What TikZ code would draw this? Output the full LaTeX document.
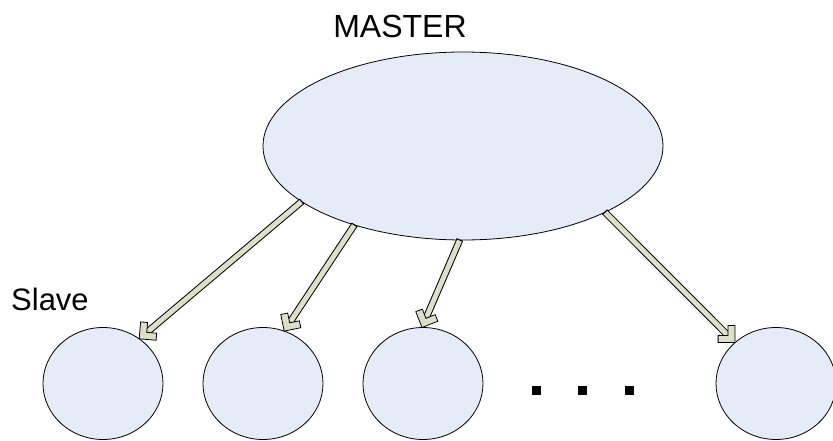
\documentclass[tikz,border=0pt]{standalone}
\usepackage{fontspec}
\setmainfont{Liberation Sans}
\usetikzlibrary{shapes.geometric,decorations.markings}
\definecolor{nodefill}{RGB}{229,236,248}
\definecolor{shaftfill}{RGB}{221,223,201}
\tikzset{
  bubble/.style={ellipse, draw=black, line width=0.8pt, fill=nodefill,
    inner sep=0pt, outer sep=0pt},
  slavenode/.style={bubble, minimum width=120pt, minimum height=112pt},
  dotmark/.style={rectangle, fill=black, minimum size=9pt, inner sep=0pt},
  caption/.style={inner sep=0pt, font=\fontsize{32}{38}\selectfont},
  % outlined block arrow with an open chevron head
  blockarrow/.style={
    preaction={draw, line width=1pt, double=shaftfill, double distance=5pt,
      shorten >=5pt},
    postaction={decorate, decoration={markings,
      mark=at position 0 with {\draw[line width=1pt] (0,-3.5) -- (0,3.5);},
      mark=at position 1 with {\filldraw[fill=shaftfill, draw=black,
        line width=0.8pt, line join=miter]
        (0,0) -- (-12,12) -- (-17,7) -- (-9.9,0) -- (-17,-7) -- (-12,-12) -- cycle;}}}}
}
\begin{document}
\begin{tikzpicture}[x=1pt, y=-1pt]
  \useasboundingbox (0,0) rectangle (833,441);

  % master and slaves
  \node[bubble, minimum width=400pt, minimum height=188pt] (m) at (463,146) {};
  \node[slavenode] (s1) at (103,383.5) {};
  \node[slavenode] (s2) at (263,383.5) {};
  \node[slavenode] (s3) at (423,383.5) {};
  \node[slavenode] (s4) at (776,383.5) {};

  % ellipsis between the slaves
  \node[dotmark] (d1) at (536,390.5) {};
  \node[dotmark] (d2) at (582.5,390.5) {};
  \node[dotmark] (d3) at (629,390.5) {};

  % labels
  \node[caption, anchor=base] (mlabel) at (400,38) {MASTER};
  \node[caption, anchor=base west, font=\fontsize{31}{36}\selectfont] (slabel) at (11,310) {Slave};

  % links from master to each slave
  \path[blockarrow] (m.199.2) -- (s1.51.8);
  \path[blockarrow] (m.216.7) -- (s2.68.4);
  \path[blockarrow] (m.268.8) -- (s3.91);
  \path[blockarrow] (m.335.1) -- (s4.135);
\end{tikzpicture}
\end{document}
